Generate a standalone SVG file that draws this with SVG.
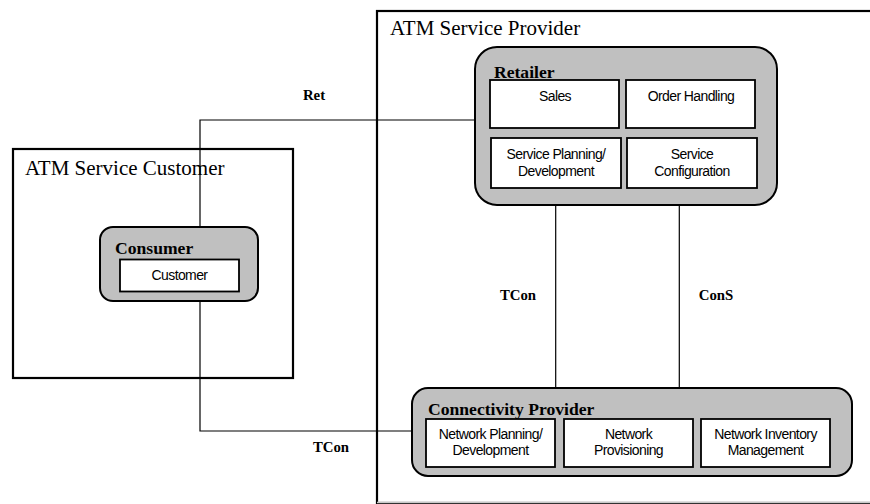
<svg xmlns="http://www.w3.org/2000/svg" width="870" height="504" viewBox="0 0 870 504">
<style>
.domain{fill:#fff;stroke:#000;stroke-width:2.2}
.role{fill:#c0c0c0;stroke:#000;stroke-width:2}
.fn{fill:#fff;stroke:#000;stroke-width:1.8}
.dt{font-family:"Liberation Serif","Times New Roman",serif;font-size:21px;fill:#000}
.rt{font-family:"Liberation Serif","Times New Roman",serif;font-size:17.6px;font-weight:bold;fill:#000}
.ft{font-family:"Liberation Sans",Arial,sans-serif;font-size:14px;letter-spacing:-0.6px;fill:#000;text-anchor:middle}
.lt{font-family:"Liberation Serif","Times New Roman",serif;font-size:14.8px;font-weight:bold;fill:#000;text-anchor:middle}
.cn{fill:none;stroke:#000;stroke-width:1.2}
</style>
<rect width="870" height="504" fill="#fff"/>
<g id="provider">
<rect class="domain" x="377" y="11" width="520" height="492"/>
<line x1="377" y1="502.5" x2="870" y2="502.5" stroke="#c8c8c8" stroke-width="1.5"/>
<text class="dt" x="390" y="35">ATM Service Provider</text>
</g>
<g id="customer-domain">
<rect class="domain" x="13" y="149" width="280" height="229"/>
<text class="dt" x="25" y="175">ATM Service Customer</text>
</g>
<g id="connectors">
<polyline class="cn" points="475,120 200,120 200,227"/>
<polyline class="cn" points="200,301 200,431 412,431"/>
<line class="cn" x1="555.7" y1="205" x2="555.7" y2="388"/>
<line class="cn" x1="679.3" y1="205" x2="679.3" y2="388"/>
<text class="lt" x="314" y="99.5">Ret</text>
<text class="lt" x="331" y="452">TCon</text>
<text class="lt" x="518" y="300">TCon</text>
<text class="lt" x="716" y="300">ConS</text>
</g>
<g id="retailer">
<rect class="role" x="475" y="47" width="302" height="158" rx="22"/>
<text class="rt" x="494" y="78">Retailer</text>
<rect class="fn" x="490" y="80" width="129" height="48"/>
<text class="ft" x="555" y="100.5">Sales</text>
<rect class="fn" x="626" y="80" width="129" height="48"/>
<text class="ft" x="691" y="100.5">Order Handling</text>
<rect class="fn" x="491" y="138" width="130" height="50"/>
<text class="ft" x="556" y="158.5">Service Planning/</text>
<text class="ft" x="556" y="175.5">Development</text>
<rect class="fn" x="627" y="138" width="130" height="50"/>
<text class="ft" x="692" y="158.5">Service</text>
<text class="ft" x="692" y="175.5">Configuration</text>
</g>
<g id="consumer">
<rect class="role" x="100" y="227" width="158" height="74" rx="13"/>
<text class="rt" x="115" y="254">Consumer</text>
<rect class="fn" x="120" y="259.5" width="119" height="32"/>
<text class="ft" x="179.5" y="279.5">Customer</text>
</g>
<g id="connectivity-provider">
<rect class="role" x="412" y="388" width="440" height="88" rx="16"/>
<text class="rt" x="428" y="415">Connectivity Provider</text>
<rect class="fn" x="426" y="419" width="129" height="48"/>
<text class="ft" x="490.5" y="438.5">Network Planning/</text>
<text class="ft" x="490.5" y="455">Development</text>
<rect class="fn" x="564" y="419" width="129" height="48"/>
<text class="ft" x="628.5" y="438.5">Network</text>
<text class="ft" x="628.5" y="455">Provisioning</text>
<rect class="fn" x="701" y="419" width="129" height="48"/>
<text class="ft" x="765.5" y="438.5">Network Inventory</text>
<text class="ft" x="765.5" y="455">Management</text>
</g>
</svg>
